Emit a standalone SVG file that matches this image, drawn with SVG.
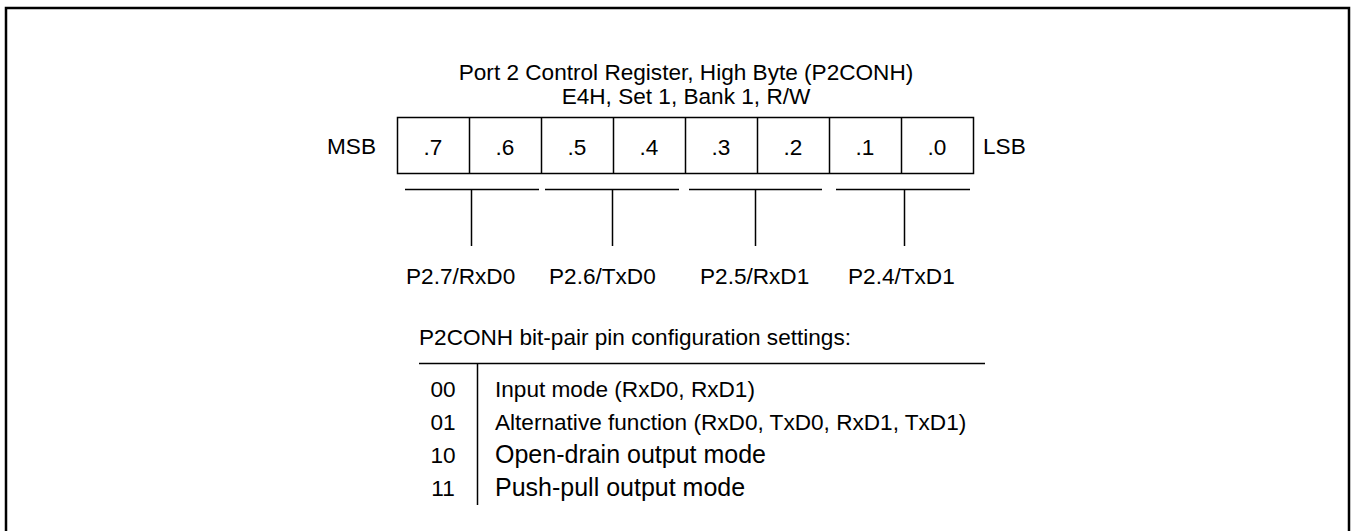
<svg xmlns="http://www.w3.org/2000/svg" width="1352" height="531" viewBox="0 0 1352 531">
<style>
text{font-family:"Liberation Sans",Arial,sans-serif;font-size:22.6px;fill:#000}
.c{text-anchor:middle}
.e{text-anchor:end}
.ln{stroke:#000;stroke-width:1.5;fill:none}
.big{font-size:25px}
</style>
<rect width="1352" height="531" fill="#fff"/>
<path d="M6,531 V8 H1349 V531" fill="none" stroke="#000" stroke-width="2.5"/>
<g id="title">
<text class="c" x="686" y="80">Port 2 Control Register, High Byte (P2CONH)</text>
<text class="c" x="686" y="104">E4H, Set 1, Bank 1, R/W</text>
</g>
<g id="register">
<text class="e" x="376" y="154">MSB</text>
<rect class="ln" x="397.5" y="117.5" width="576" height="56"/>
<path class="ln" d="M469.5,117.5V173.5M541.5,117.5V173.5M613.5,117.5V173.5M685.5,117.5V173.5M757.5,117.5V173.5M829.5,117.5V173.5M901.5,117.5V173.5"/>
<text class="c" x="433" y="155">.7</text>
<text class="c" x="505" y="155">.6</text>
<text class="c" x="577" y="155">.5</text>
<text class="c" x="649" y="155">.4</text>
<text class="c" x="721" y="155">.3</text>
<text class="c" x="793" y="155">.2</text>
<text class="c" x="865" y="155">.1</text>
<text class="c" x="937" y="155">.0</text>
<text x="983" y="154">LSB</text>
</g>
<g id="connectors">
<path class="ln" d="M405,189.5H539M545,189.5H679M689,189.5H822M836,189.5H970"/>
<path class="ln" d="M471.5,189.5V246M612.5,189.5V246M755.5,189.5V246M904.5,189.5V246"/>
</g>
<g id="pin-p27"><text x="406" y="284">P2.7/RxD0</text></g>
<g id="pin-p26"><text x="549" y="284">P2.6/TxD0</text></g>
<g id="pin-p25"><text x="700" y="284">P2.5/RxD1</text></g>
<g id="pin-p24"><text x="848" y="284">P2.4/TxD1</text></g>
<g id="settings">
<text x="419" y="345">P2CONH bit-pair pin configuration settings:</text>
<path class="ln" d="M419,363.5H985M477.5,363.5V505"/>
<text class="c" x="443" y="397">00</text>
<text x="495" y="397">Input mode (RxD0, RxD1)</text>
<text class="c" x="443" y="430">01</text>
<text x="495" y="430">Alternative function (RxD0, TxD0, RxD1, TxD1)</text>
<text class="c" x="443" y="463">10</text>
<text class="big" x="495" y="463">Open-drain output mode</text>
<text class="c" x="443" y="496">11</text>
<text class="big" x="495" y="496">Push-pull output mode</text>
</g>
</svg>
